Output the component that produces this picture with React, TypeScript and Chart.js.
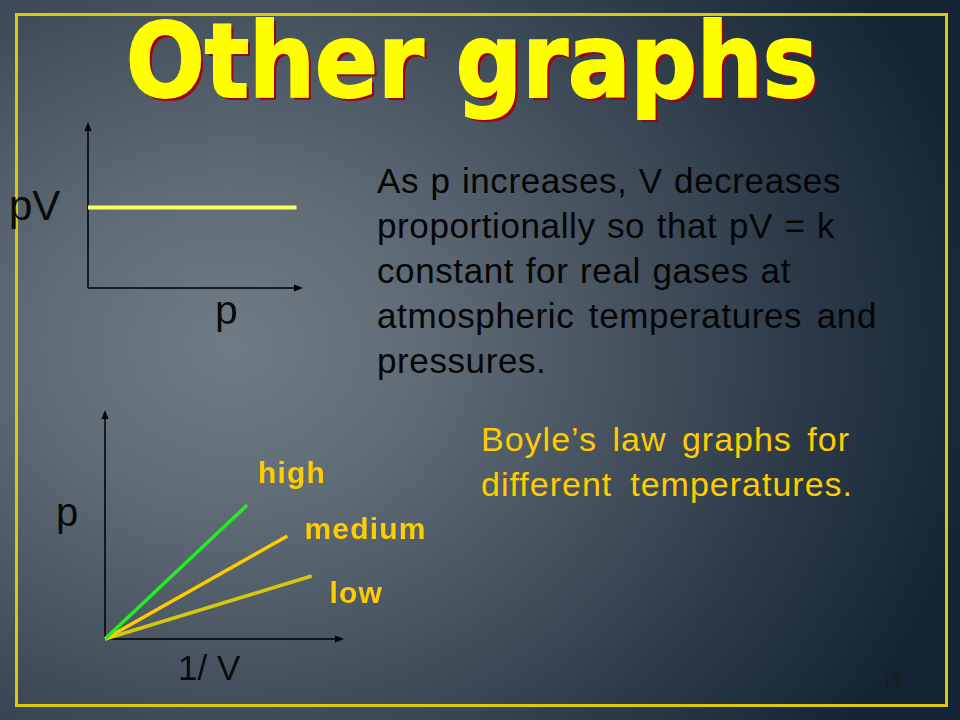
import { useEffect, useRef } from "react";
import { Chart, registerables } from "chart.js";
Chart.register(...registerables);

// top graph: pV against p, flat line
const pvP = [0, 9.7];
const pvValues = [4.85, 4.85];

// bottom graph: p against 1/V, one straight line per temperature
const tempNames = ["high", "medium", "low"];
const invV = [
  [0, 5.95],
  [0, 7.63],
  [0, 8.65],
];
const pValues = [
  [0, 5.85],
  [0, 4.5],
  [0, 2.75],
];
const tempColors = ["#22ee22", "#ffcc00", "#d6c80a"];
const axisMax = 10;

// axes drawn as arrows from the origin of the scales
const arrowAxes = {
  id: "arrowAxes",
  beforeDatasetsDraw(chart) {
    const { ctx } = chart;
    const x = chart.scales.x;
    const y = chart.scales.y;
    const x0 = x.getPixelForValue(0);
    const y0 = y.getPixelForValue(0);
    const x1 = x.getPixelForValue(x.max);
    const y1 = y.getPixelForValue(y.max);
    ctx.save();
    ctx.strokeStyle = "#000";
    ctx.fillStyle = "#000";
    ctx.lineWidth = 1.5;
    ctx.beginPath();
    ctx.moveTo(x0, y0);
    ctx.lineTo(x1 - 6, y0);
    ctx.moveTo(x0, y0);
    ctx.lineTo(x0, y1 + 6);
    ctx.stroke();
    ctx.beginPath();
    ctx.moveTo(x1, y0);
    ctx.lineTo(x1 - 9, y0 - 3.5);
    ctx.lineTo(x1 - 9, y0 + 3.5);
    ctx.closePath();
    ctx.fill();
    ctx.beginPath();
    ctx.moveTo(x0, y1);
    ctx.lineTo(x0 - 3.5, y1 + 9);
    ctx.lineTo(x0 + 3.5, y1 + 9);
    ctx.closePath();
    ctx.fill();
    ctx.restore();
  },
};

function baseOptions() {
  return {
    animation: false,
    responsive: false,
    maintainAspectRatio: false,
    events: [],
    layout: { padding: 10 },
    plugins: { legend: { display: false }, tooltip: { enabled: false } },
    scales: {
      x: { type: "linear", display: false, min: 0, max: axisMax },
      y: { type: "linear", display: false, min: 0, max: axisMax },
    },
  };
}

function line(xs, ys, color) {
  return {
    data: xs.map((v, i) => ({ x: v, y: ys[i] })),
    borderColor: color,
    borderWidth: 4,
    borderCapStyle: "butt",
    pointRadius: 0,
    clip: false,
    fill: false,
  };
}

function PvChart() {
  const ref = useRef(null);
  useEffect(() => {
    const chart = new Chart(ref.current, {
      type: "line",
      data: { datasets: [line(pvP, pvValues, "#ffff66")] },
      options: baseOptions(),
      plugins: [arrowAxes],
    });
    return () => chart.destroy();
  }, []);
  return (
    <canvas
      ref={ref}
      width={235}
      height={186}
      style={{ position: "absolute", left: 78, top: 112, width: 235, height: 186 }}
    />
  );
}

function BoyleChart() {
  const ref = useRef(null);
  useEffect(() => {
    const chart = new Chart(ref.current, {
      type: "line",
      data: {
        datasets: tempNames.map((n, i) => ({
          label: n,
          ...line(invV[i], pValues[i], tempColors[i]),
          borderWidth: 3.5,
        })),
      },
      options: baseOptions(),
      plugins: [arrowAxes],
    });
    return () => chart.destroy();
  }, []);
  return (
    <canvas
      ref={ref}
      width={259}
      height={249}
      style={{ position: "absolute", left: 95, top: 400, width: 259, height: 249 }}
    />
  );
}

const sans = "'Liberation Sans', Arial, sans-serif";

function Label({ text, left, baseline, size, color = "#0a0a0a", bold = false, spacing = 0 }) {
  return (
    <div
      style={{
        position: "absolute",
        left,
        top: baseline - 0.8465 * size,
        fontFamily: sans,
        fontSize: size,
        lineHeight: 1,
        fontWeight: bold ? "bold" : "normal",
        letterSpacing: spacing,
        color,
        whiteSpace: "pre",
      }}
    >
      {text}
    </div>
  );
}

function JustLine({ text, left, top, width, color, size, spacing, justify = true }) {
  return (
    <div
      style={{
        position: "absolute",
        left,
        top,
        width,
        fontFamily: sans,
        fontSize: size,
        lineHeight: "45px",
        letterSpacing: spacing,
        color,
        textAlign: justify ? "justify" : "left",
        textAlignLast: justify ? "justify" : "left",
      }}
    >
      {text}
    </div>
  );
}

const bodyLines = [
  { t: "As p increases,  V decreases", w: 464 },
  { t: "proportionally so that pV = k", w: 458 },
  { t: "constant for real gases at", w: 414 },
  { t: "atmospheric temperatures and", w: 500 },
  { t: "pressures.", w: 0 },
];

const boyleLines = [
  { t: "Boyle\u2019s law graphs for", w: 369 },
  { t: "different temperatures.", w: 372 },
];

export default function App() {
  return (
    <div
      style={{
        position: "absolute",
        left: 0,
        top: 0,
        width: 960,
        height: 720,
        overflow: "hidden",
        background:
          "radial-gradient(ellipse 80% 90% at 24% 48%, #6f7b85 0%, #5f6b75 25%, #47535f 50%, #2c3a48 75%, #142435 100%)",
      }}
    >
      <div
        style={{
          position: "absolute",
          left: 15,
          top: 13,
          width: 933,
          height: 694,
          boxSizing: "border-box",
          border: "3px solid #dcc80e",
        }}
      />
      <div
        style={{
          position: "absolute",
          left: 126,
          top: 9.6,
          fontFamily: "'DejaVu Sans Condensed', 'DejaVu Sans', sans-serif",
          fontWeight: "bold",
          fontSize: 103,
          lineHeight: 1,
          color: "#ffff00",
          WebkitTextStroke: "2px #ffff00",
          textShadow: "3px 3px 0 #a00000",
          whiteSpace: "pre",
        }}
      >
        Other graphs
      </div>

      <PvChart />
      <Label text="pV" left={9} baseline={221} size={42} />
      <Label text="p" left={215} baseline={325} size={41} />

      {bodyLines.map((l, i) => (
        <JustLine
          key={i}
          text={l.t}
          left={377}
          top={158 + i * 45}
          width={l.w || 300}
          color="#050505"
          size={35}
          spacing={0.6}
          justify={l.w > 0}
        />
      ))}

      <BoyleChart />
      <Label text="p" left={56} baseline={526} size={40} />
      <Label text="1/ V" left={178} baseline={680} size={35} />
      <Label text="high" left={258} baseline={483.3} size={30} bold color="#ffcc00" spacing={1.2} />
      <Label text="medium" left={304.5} baseline={539.3} size={30} bold color="#ffcc00" spacing={1.2} />
      <Label text="low" left={329.5} baseline={603.3} size={30} bold color="#ffcc00" spacing={1.2} />

      {boyleLines.map((l, i) => (
        <JustLine
          key={i}
          text={l.t}
          left={481}
          top={417.4 + i * 45}
          width={l.w}
          color="#ffcc00"
          size={34}
          spacing={1}
        />
      ))}

      <Label text="19" left={883} baseline={687.7} size={16} color="#1a1a1a" />
    </div>
  );
}
